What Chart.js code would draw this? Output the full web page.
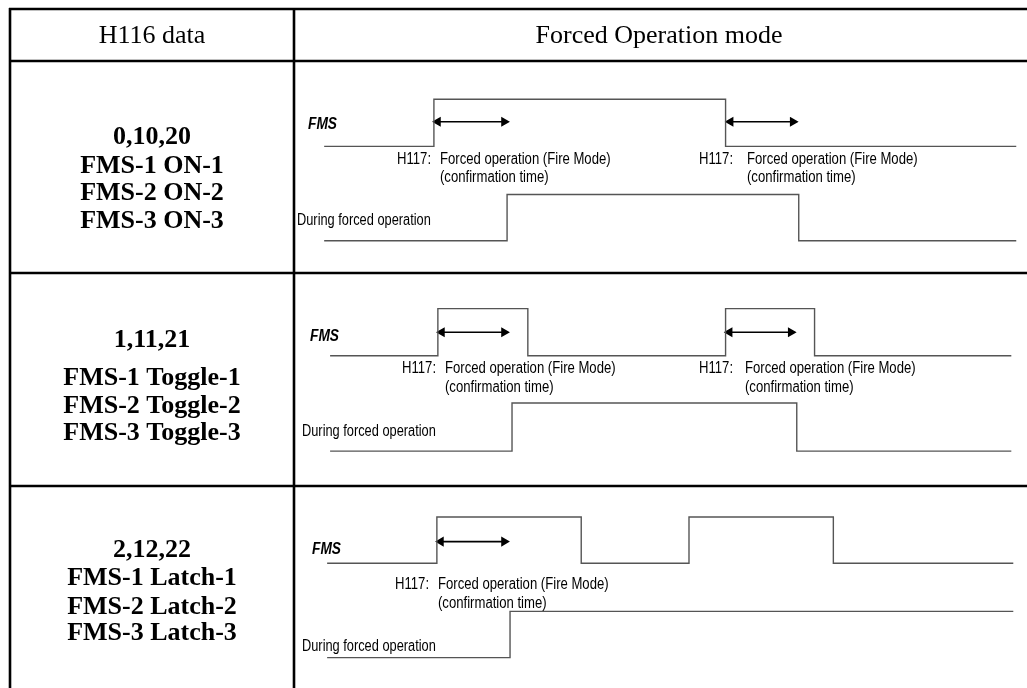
<!DOCTYPE html>
<html>
<head>
<meta charset="utf-8">
<script src="https://cdn.jsdelivr.net/npm/chart.js@4"></script>
<style>
  html, body { margin: 0; padding: 0; background: #fff; }
  canvas { display: block; }
</style>
</head>
<body>
<canvas id="timing" width="1027" height="688"></canvas>
<script>
// table text
const headers = ["H116 data", "Forced Operation mode"];
const rowCodes = ["0,10,20", "1,11,21", "2,12,22"];
const rowModes = ["ON", "Toggle", "Latch"];
const signalName = "FMS";
const outputName = "During forced operation";
const paramName = "H117:";
const paramText = ["Forced operation (Fire Mode)", "(confirmation time)"];

// timing values (time axis), one list per table row
const traceStart = [322, 328, 325];
const traceEnd = [1022, 1017, 1019];
const fmsEdges = [[433, 728], [437, 528, 728, 818], [436, 582, 691, 837]];
const opEdges = [[507, 802], [512, 800], [510]];
const confirmStarts = [[433, 729], [437, 728], [436]];
const confirmEnds = [[508, 800], [508, 798], [508]];

// layout only
const colX = [10, 294];
const rowLines = [9, 61, 273, 486];
const lanes = [
  { fmsHi: 95, fmsLo: 143, arrow: 118, opHi: 192, opLo: 239, fmsLabel: 125, fmsX: 308,
    h117: 160, conf: 178, during: 221, duringX: 297, h117X: [397, 699], textX: [440, 747],
    codeY: 137, modeY: [166, 193, 221] },
  { fmsHi: 308, fmsLo: 356, arrow: 332, opHi: 404, opLo: 453, fmsLabel: 337, fmsX: 310,
    h117: 369, conf: 388, during: 432, duringX: 302, h117X: [402, 699], textX: [445, 745],
    codeY: 340, modeY: [378, 406, 433] },
  { fmsHi: 520, fmsLo: 567, arrow: 545, opHi: 616, opLo: 663, fmsLabel: 550, fmsX: 312,
    h117: 585, conf: 604, during: 647, duringX: 302, h117X: [395], textX: [438],
    codeY: 550, modeY: [578, 607, 633] }
];

function stepPoints(start, edges, end, lo, hi) {
  let high = false;
  const pts = [{ x: start, y: lo }];
  edges.forEach((e) => {
    high = !high;
    pts.push({ x: e, y: high ? hi : lo });
  });
  pts.push({ x: end, y: high ? hi : lo });
  return pts;
}

const datasets = [];
rowCodes.forEach((code, r) => {
  const L = lanes[r];
  datasets.push({
    data: stepPoints(traceStart[r], fmsEdges[r], traceEnd[r], L.fmsLo, L.fmsHi),
    borderColor: "#555", borderWidth: 1.4, stepped: "before", pointRadius: 0
  });
  datasets.push({
    data: stepPoints(traceStart[r], opEdges[r], traceEnd[r], L.opLo, L.opHi),
    borderColor: "#555", borderWidth: 1.4, stepped: "before", pointRadius: 0
  });
  confirmStarts[r].forEach((s, i) => {
    datasets.push({
      data: [{ x: s + 4, y: L.arrow }, { x: confirmEnds[r][i] - 4, y: L.arrow }],
      borderColor: "#000", backgroundColor: "#000", borderWidth: 1.6,
      pointStyle: "triangle", pointRadius: 4.2, pointRotation: [-90, 90]
    });
  });
});

const tablePlugin = {
  id: "table",
  beforeDraw(chart) {
    const ctx = chart.ctx;
    ctx.save();
    ctx.fillStyle = "#fff";
    ctx.fillRect(0, 0, chart.width, chart.height);
    ctx.restore();
  },
  afterDraw(chart) {
    const ctx = chart.ctx;
    ctx.save();
    ctx.strokeStyle = "#000";
    ctx.lineWidth = 2.6;
    ctx.beginPath();
    rowLines.forEach((y) => { ctx.moveTo(colX[0] - 1, y); ctx.lineTo(chart.width, y); });
    colX.forEach((x) => { ctx.moveTo(x, rowLines[0] - 1); ctx.lineTo(x, chart.height); });
    ctx.stroke();

    ctx.fillStyle = "#000";
    ctx.textAlign = "center";
    ctx.textBaseline = "middle";
    ctx.font = "26px 'Liberation Serif', serif";
    ctx.fillText(headers[0], 152, 36);
    ctx.fillText(headers[1], 659, 36);

    ctx.font = "bold 26px 'Liberation Serif', serif";
    rowCodes.forEach((code, r) => {
      const L = lanes[r];
      ctx.fillText(code, 152, L.codeY);
      [1, 2, 3].forEach((n, i) => {
        ctx.fillText("FMS-" + n + " " + rowModes[r] + "-" + n, 152, L.modeY[i]);
      });
    });

    const narrow = (txt, x, y, font, sx) => {
      ctx.save();
      ctx.font = font;
      ctx.textAlign = "left";
      ctx.translate(x, y);
      ctx.scale(sx, 1);
      ctx.fillText(txt, 0, 0);
      ctx.restore();
    };
    const small = "16px 'Liberation Sans', Arial, sans-serif";
    rowCodes.forEach((code, r) => {
      const L = lanes[r];
      narrow(signalName, L.fmsX, L.fmsLabel, "italic bold 16px 'Liberation Sans', Arial, sans-serif", 0.86);
      narrow(outputName, L.duringX, L.during, small, 0.8);
      L.h117X.forEach((hx, i) => {
        narrow(paramName, hx, L.h117, small, 0.82);
        narrow(paramText[0], L.textX[i], L.h117, small, 0.82);
        narrow(paramText[1], L.textX[i], L.conf, small, 0.82);
      });
    });
    ctx.restore();
  }
};

new Chart(document.getElementById("timing"), {
  type: "line",
  data: { datasets },
  options: {
    responsive: false,
    animation: false,
    layout: { padding: 0 },
    plugins: { legend: { display: false }, tooltip: { enabled: false } },
    scales: {
      x: { type: "linear", min: 0, max: 1027, display: false },
      y: { type: "linear", min: 0, max: 688, reverse: true, display: false }
    }
  },
  plugins: [tablePlugin]
});
</script>
</body>
</html>
